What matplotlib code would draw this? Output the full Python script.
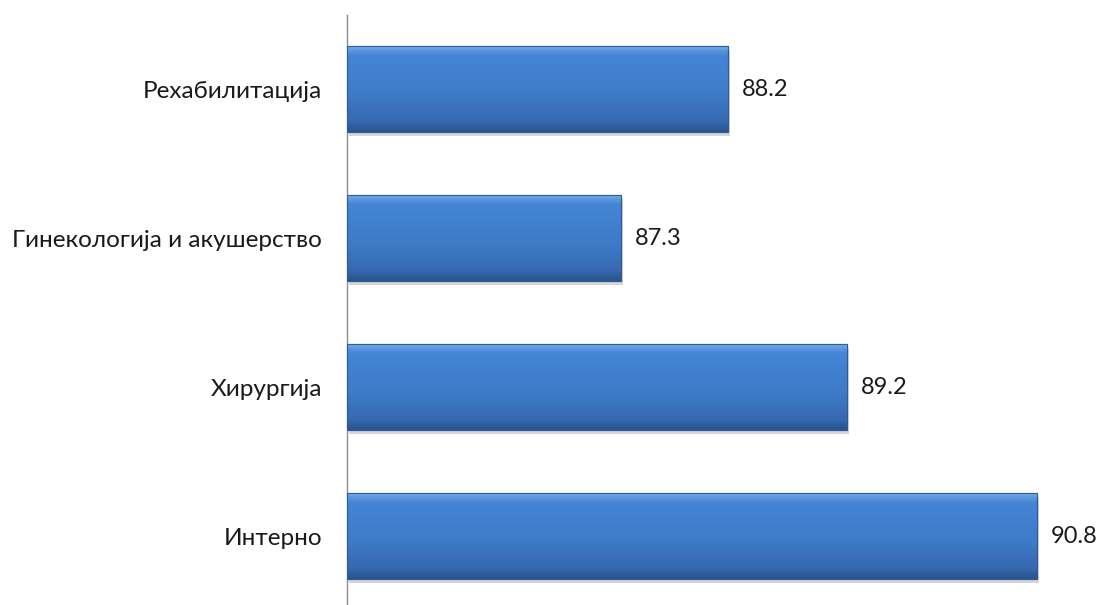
import matplotlib
matplotlib.use("Agg")
import matplotlib.pyplot as plt
import matplotlib.patheffects as pe
import numpy as np
from matplotlib.colors import LinearSegmentedColormap

categories = ["Рехабилитација", "Гинекологија и акушерство", "Хирургија", "Интерно"]
values = [88.2, 87.3, 89.2, 90.8]
x_min, x_max = 85, 91

plt.rcParams['font.family'] = ['Lato', 'DejaVu Sans']

fig = plt.figure(figsize=(11.04, 6.05), dpi=100)
ax = fig.add_axes([0.3143, -0.0091, 0.6467, 0.985])

y = np.arange(len(categories))
bars = ax.barh(y, [v - x_min for v in values], left=x_min, height=0.58,
               color="#3F7CC8", edgecolor="#2E5C98", linewidth=0.8, zorder=2)

cmap = LinearSegmentedColormap.from_list("bevel", [
    (0.0, "#7DB4EC"), (0.06, "#5B97DE"), (0.12, "#4585D6"),
    (0.55, "#3E7CC9"), (0.88, "#3769B0"), (0.94, "#2F5C9C"), (1.0, "#2A5490")])
grad = np.linspace(0, 1, 256).reshape(-1, 1)
for b in bars:
    b.set_path_effects([pe.SimplePatchShadow(offset=(1.5, -3), shadow_rgbFace="#888888", alpha=0.35), pe.Normal()])
    x0, y0 = b.get_x(), b.get_y()
    w, h = b.get_width(), b.get_height()
    im = ax.imshow(grad, extent=[x0, x0 + w, y0 + h, y0], aspect='auto', cmap=cmap,
                   interpolation='bicubic', zorder=3)
    im.set_clip_path(b)
    ax.add_patch(plt.Rectangle((x0, y0), w, h, fill=False, edgecolor="#2E5C98", linewidth=0.8, zorder=4))

for yi, v in zip(y, values):
    ax.annotate(f"{v:.1f}", xy=(v, yi), xytext=(10, 0), textcoords="offset points",
                ha="left", va="center", fontsize=17, color="#1a1a1a", annotation_clip=False)

ax.set_xlim(x_min, x_max)
ax.set_ylim(len(categories) - 0.5, -0.5)
ax.set_yticks(y)
ax.set_yticklabels(categories, fontsize=17.5, color="#1a1a1a")
ax.tick_params(axis='y', length=0, pad=18)
ax.set_xticks([])
for s in ["top", "right", "bottom"]:
    ax.spines[s].set_visible(False)
ax.spines["left"].set_color("#8c8c8c")
ax.spines["left"].set_linewidth(1.0)
ax.patch.set_alpha(0)

fig.savefig("out.png", dpi=100)
